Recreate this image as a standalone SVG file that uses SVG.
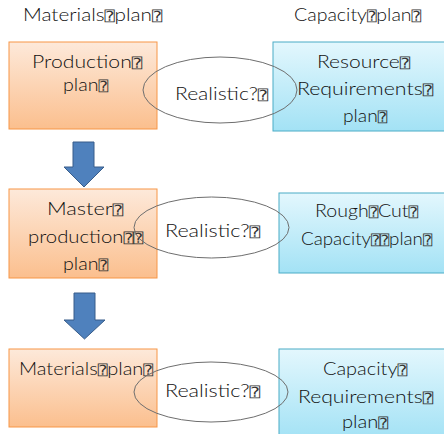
<svg xmlns="http://www.w3.org/2000/svg" width="444" height="434" viewBox="0 0 444 434">
  <defs>
    <linearGradient id="gOrange" x1="0" y1="0" x2="0" y2="1">
      <stop offset="0" stop-color="#fde9da"/>
      <stop offset="1" stop-color="#fbbf8e"/>
    </linearGradient>
    <linearGradient id="gBlue" x1="0" y1="0" x2="0" y2="1">
      <stop offset="0" stop-color="#e3f7fd"/>
      <stop offset="1" stop-color="#a3e2f5"/>
    </linearGradient>
  </defs>
  <style>
    text { font-family: Lato, "Liberation Sans", sans-serif; font-size: 17.5px; font-weight: 300; fill: #111; }
    .q { font-family: "DejaVu Sans Mono", "DejaVu Sans", monospace; font-size: 14px; font-weight: normal; fill: #333; }
    .mat { fill: url(#gOrange); stroke: #f79646; stroke-width: 1; }
    .cap { fill: url(#gBlue); stroke: #4bacc6; stroke-width: 1; }
    .arrow { fill: #4f81bd; stroke: #385d8a; stroke-width: 1; }
    .check { fill: none; stroke: #6e6e6e; stroke-width: 1; }
  </style>

  <!-- column headings -->
  <g id="heading-materials">
    <text x="23" y="21" textLength="139" lengthAdjust="spacingAndGlyphs">Materials<tspan class="q">⍰</tspan>plan<tspan class="q">⍰</tspan></text>
  </g>
  <g id="heading-capacity">
    <text x="294" y="21" textLength="127" lengthAdjust="spacingAndGlyphs">Capacity<tspan class="q">⍰</tspan>plan<tspan class="q">⍰</tspan></text>
  </g>

  <!-- materials column -->
  <g id="production-plan">
    <rect class="mat" x="9" y="42" width="148" height="87"/>
    <text x="32" y="68" textLength="110" lengthAdjust="spacingAndGlyphs">Production<tspan class="q">⍰</tspan></text>
    <text x="63" y="91" textLength="45" lengthAdjust="spacingAndGlyphs">plan<tspan class="q">⍰</tspan></text>
  </g>
  <g id="master-production-plan">
    <rect class="mat" x="9" y="189" width="148" height="89"/>
    <text x="47" y="215" textLength="76" lengthAdjust="spacingAndGlyphs">Master<tspan class="q">⍰</tspan></text>
    <text x="28" y="243" textLength="115" lengthAdjust="spacingAndGlyphs">production<tspan class="q">⍰⍰</tspan></text>
    <text x="63" y="270" textLength="45" lengthAdjust="spacingAndGlyphs">plan<tspan class="q">⍰</tspan></text>
  </g>
  <g id="materials-plan">
    <rect class="mat" x="9" y="349" width="148" height="78"/>
    <text x="19" y="375" textLength="134" lengthAdjust="spacingAndGlyphs">Materials<tspan class="q">⍰</tspan>plan<tspan class="q">⍰</tspan></text>
  </g>

  <!-- capacity column -->
  <g id="resource-requirements-plan">
    <rect class="cap" x="273" y="42" width="175" height="89"/>
    <text x="317" y="68" textLength="93" lengthAdjust="spacingAndGlyphs">Resource<tspan class="q">⍰</tspan></text>
    <text x="297" y="95" textLength="136" lengthAdjust="spacingAndGlyphs">Requirements<tspan class="q">⍰</tspan></text>
    <text x="343" y="122" textLength="44" lengthAdjust="spacingAndGlyphs">plan<tspan class="q">⍰</tspan></text>
  </g>
  <g id="rough-cut-capacity-plan">
    <rect class="cap" x="279" y="193" width="169" height="80"/>
    <text x="315" y="217" textLength="103" lengthAdjust="spacingAndGlyphs">Rough<tspan class="q">⍰</tspan>Cut<tspan class="q">⍰</tspan></text>
    <text x="301" y="245" textLength="131" lengthAdjust="spacingAndGlyphs">Capacity<tspan class="q">⍰⍰</tspan>plan<tspan class="q">⍰</tspan></text>
  </g>
  <g id="capacity-requirements-plan">
    <rect class="cap" x="279" y="349" width="169" height="90"/>
    <text x="323" y="375" textLength="84" lengthAdjust="spacingAndGlyphs">Capacity<tspan class="q">⍰</tspan></text>
    <text x="298" y="403" textLength="135" lengthAdjust="spacingAndGlyphs">Requirements<tspan class="q">⍰</tspan></text>
    <text x="342" y="428" textLength="46" lengthAdjust="spacingAndGlyphs">plan<tspan class="q">⍰</tspan></text>
  </g>

  <!-- connectors: downward arrows and feasibility checks -->
  <g id="connectors">
    <path class="arrow" d="M73,142 H94 V167 H104 L84,187 L64,167 H73 Z"/>
    <path class="arrow" d="M74,293 H95 V320 H105 L84.5,339 L64,320 H74 Z"/>

    <g id="check-1">
      <ellipse class="check" cx="220" cy="90" rx="77" ry="33" stroke="#8c8c8c"/>
      <text x="175" y="100" textLength="93" lengthAdjust="spacingAndGlyphs">Realistic?<tspan class="q">⍰</tspan></text>
    </g>
    <g id="check-2">
      <ellipse class="check" cx="211.5" cy="227.5" rx="77.5" ry="30.5"/>
      <text x="165" y="237" textLength="95" lengthAdjust="spacingAndGlyphs">Realistic?<tspan class="q">⍰</tspan></text>
    </g>
    <g id="check-3">
      <ellipse class="check" cx="211" cy="392" rx="77" ry="30"/>
      <text x="165" y="397" textLength="95" lengthAdjust="spacingAndGlyphs">Realistic?<tspan class="q">⍰</tspan></text>
    </g>
  </g>
</svg>
